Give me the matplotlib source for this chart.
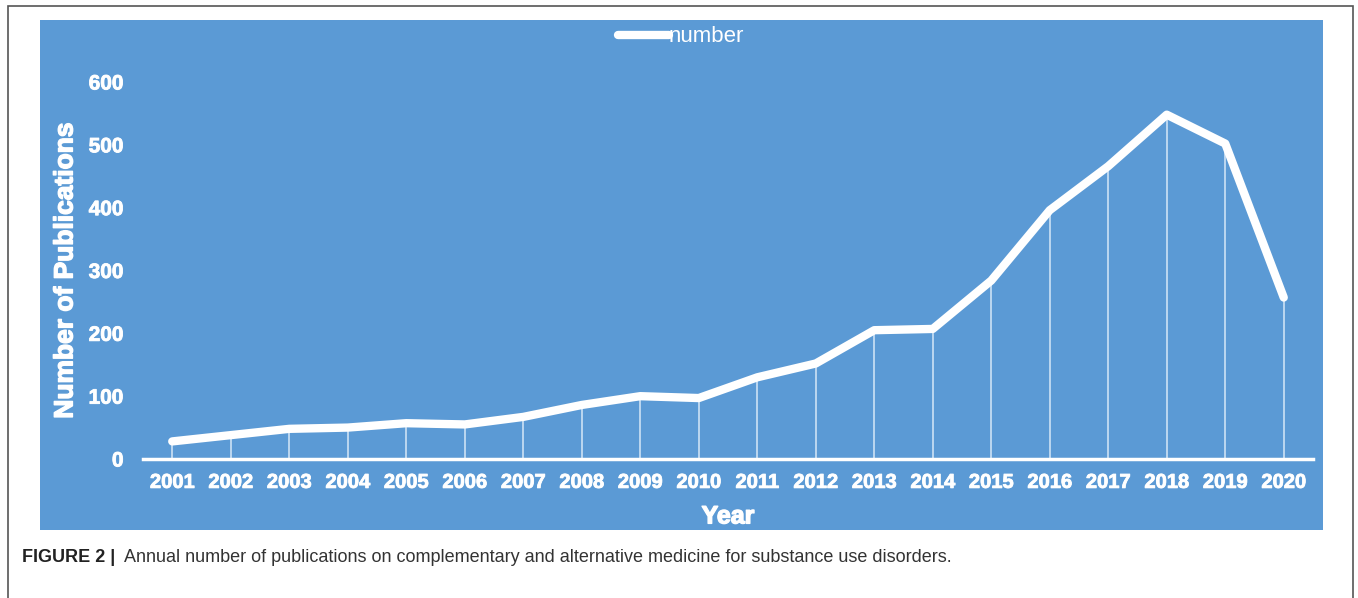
"""Annual number of publications, Figure 2."""
import matplotlib.pyplot as plt
import matplotlib.patheffects as pe
from matplotlib.patches import Rectangle

plt.rcParams['font.family'] = ['Liberation Sans', 'DejaVu Sans']

years = list(range(2001, 2021))
counts = [28, 38, 48, 50, 57, 55, 67, 86, 100, 97,
          130, 152, 205, 207, 284, 396, 466, 548, 502, 257]
y_ticks = [0, 100, 200, 300, 400, 500, 600]

panel_blue = '#5b9ad5'
white = 'white'
heavy = [pe.withStroke(linewidth=1.0, foreground=white)]

fig = plt.figure(figsize=(13.58, 5.98), dpi=100)

# outer frame and blue panel
fig.patches.append(Rectangle((8 / 1358, -0.05), 1345 / 1358, 1.05 - 6 / 598,
                             transform=fig.transFigure, fill=False,
                             ec='#555555', lw=1.2, zorder=-2))
fig.patches.append(Rectangle((40 / 1358, 1 - 530 / 598), 1283 / 1358, 510 / 598,
                             transform=fig.transFigure, fc=panel_blue,
                             ec='none', zorder=-2))

ax = fig.add_axes([143 / 1358, 1 - 459 / 598, 1170 / 1358, 377 / 598])
ax.patch.set_visible(False)

ax.vlines(years, 0, counts, color='#d6e8f7', lw=1.1, zorder=2)
ax.plot(years, counts, color=white, lw=6, solid_capstyle='round',
        solid_joinstyle='round', label='number', zorder=3, clip_on=False)

ax.set_xlim(2000.5, 2020.5)
ax.set_ylim(0, 600)
ax.set_xticks(years)
ax.set_yticks(y_ticks)
for s in ['top', 'right', 'left']:
    ax.spines[s].set_visible(False)
ax.spines['bottom'].set_color(white)
ax.spines['bottom'].set_linewidth(2.5)
ax.tick_params(axis='both', length=0, colors=white)
ax.tick_params(axis='x', pad=10, labelsize=14.5)
ax.tick_params(axis='y', pad=14, labelsize=15)
for lab in ax.get_xticklabels() + ax.get_yticklabels():
    lab.set_fontweight('bold')
    lab.set_path_effects([pe.withStroke(linewidth=0.6, foreground=white)])

ax.set_xlabel('Year', fontsize=18, fontweight='bold', color=white, labelpad=9,
              path_effects=heavy)
ax.set_ylabel('Number of Publications', fontsize=19, fontweight='bold',
              color=white, labelpad=8, path_effects=heavy)

leg = fig.legend(loc='center', bbox_to_anchor=(681 / 1358, 1 - 37 / 598),
                 frameon=False, fontsize=16, handlelength=2.3,
                 handletextpad=0.0)
for t in leg.get_texts():
    t.set_color(white)

fig.text(22 / 1358, 1 - 558 / 598, 'FIGURE 2 |', fontsize=13,
         fontweight='bold', color='#222222', va='center')
fig.text(124 / 1358, 1 - 558 / 598,
         'Annual number of publications on complementary and alternative '
         'medicine for substance use disorders.',
         fontsize=13, color='#333333', va='center')

fig.savefig('out.png', dpi=100)
